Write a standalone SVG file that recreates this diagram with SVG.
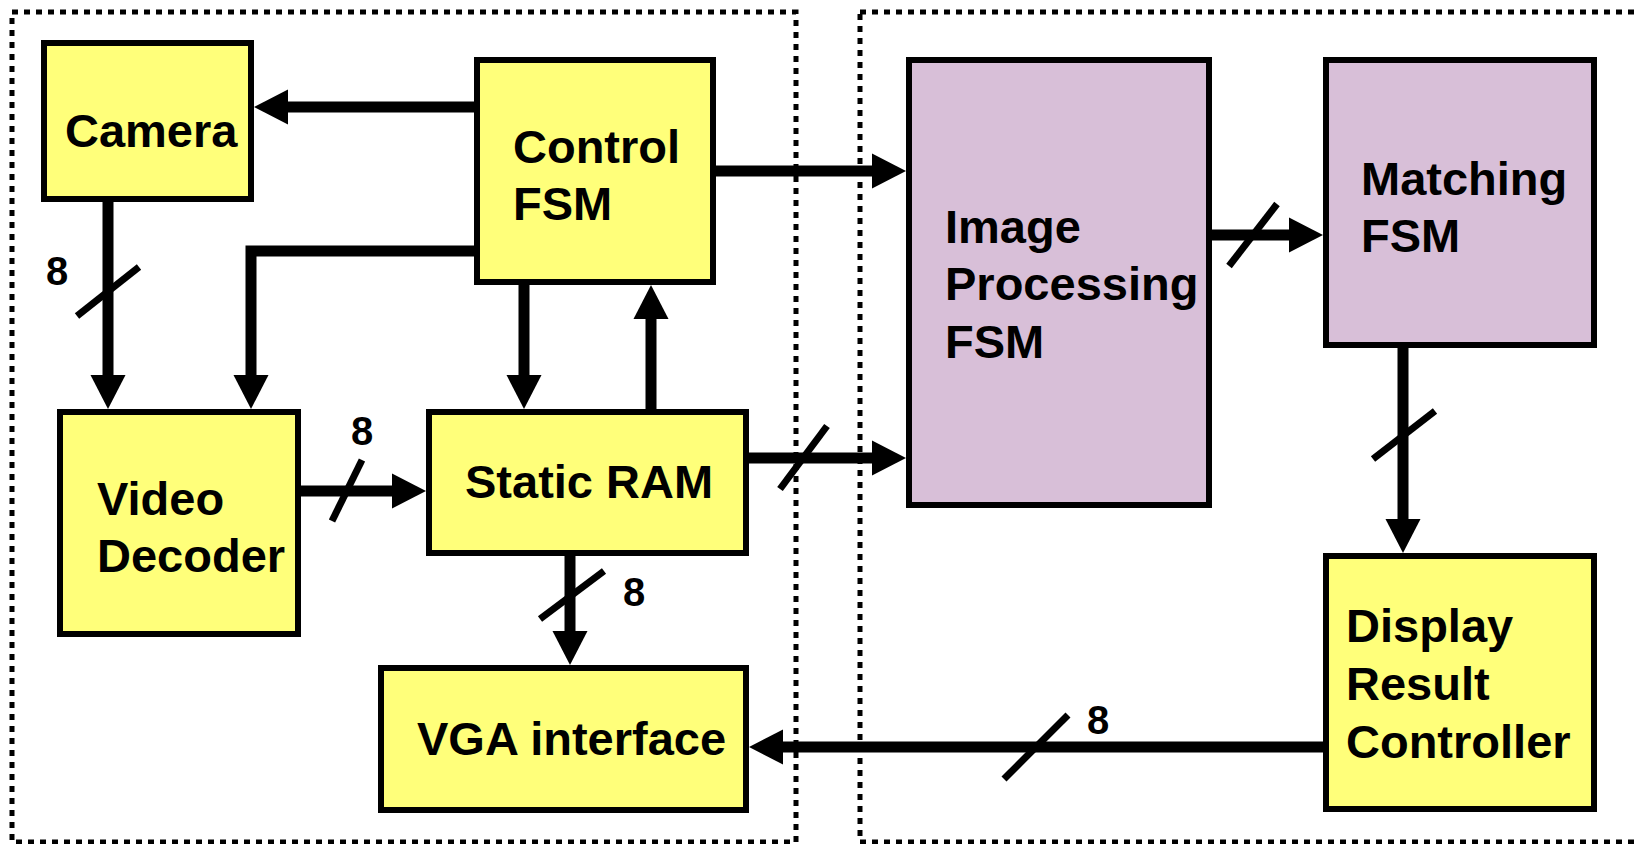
<svg xmlns="http://www.w3.org/2000/svg" width="1637" height="844" viewBox="0 0 1637 844">
  <defs>
    <style>
      .frame { fill: none; stroke: #000; stroke-width: 5; stroke-dasharray: 6 6; }
      .box { stroke: #000; stroke-width: 6; }
      .yellow { fill: #FFFF7A; }
      .lilac { fill: #D8BFD8; }
      .label { font-family: "Liberation Sans", Arial, sans-serif; font-weight: bold; font-size: 47px; fill: #000; }
      .width { font-family: "Liberation Sans", Arial, sans-serif; font-weight: bold; font-size: 40px; fill: #000; }
      .wire { fill: none; stroke: #000; stroke-width: 11; stroke-linejoin: miter; marker-end: url(#head); }
      .slash { stroke: #000; stroke-width: 7; }
    </style>
    <marker id="head" viewBox="0 -18 34 36" refX="0" refY="0" markerWidth="34" markerHeight="36" markerUnits="userSpaceOnUse" orient="auto" overflow="visible">
      <path d="M0,-17.5 L34,0 L0,17.5 Z" fill="#000"/>
    </marker>
  </defs>

  <!-- partition frames -->
  <g id="frames">
    <rect class="frame" x="12" y="12" width="784" height="830"/>
    <rect class="frame" x="860" y="12" width="800" height="830"/>
  </g>

  <!-- connectors -->
  <g id="connectors">
    <path class="wire" d="M474,107 H288"/>
    <path class="wire" d="M108,202 V375"/>
    <path class="wire" d="M474,251 H251 V375"/>
    <path class="wire" d="M524,285 V375"/>
    <path class="wire" d="M651,409 V319"/>
    <path class="wire" d="M716,171 H872"/>
    <path class="wire" d="M749,458 H872"/>
    <path class="wire" d="M301,491 H392"/>
    <path class="wire" d="M570,556 V631"/>
    <path class="wire" d="M1212,235 H1289"/>
    <path class="wire" d="M1403,348 V519"/>
    <path class="wire" d="M1323,747 H783"/>
    <!-- bus-width slashes -->
    <line class="slash" x1="77" y1="316" x2="139" y2="267"/>
    <line class="slash" x1="332" y1="521" x2="362" y2="460"/>
    <line class="slash" x1="780" y1="489" x2="827" y2="426"/>
    <line class="slash" x1="540" y1="619" x2="604" y2="571"/>
    <line class="slash" x1="1229" y1="266" x2="1277" y2="204"/>
    <line class="slash" x1="1373" y1="459" x2="1435" y2="411"/>
    <line class="slash" x1="1004" y1="779" x2="1068" y2="715"/>
    <text class="width" x="46" y="285">8</text>
    <text class="width" x="351" y="445">8</text>
    <text class="width" x="623" y="606">8</text>
    <text class="width" x="1087" y="734">8</text>
  </g>

  <g id="camera">
    <rect class="box yellow" x="44" y="43" width="207" height="156"/>
    <text class="label" x="65" y="147">Camera</text>
  </g>

  <g id="control-fsm">
    <rect class="box yellow" x="477" y="60" width="236" height="222"/>
    <text class="label" x="513" y="163">Control</text>
    <text class="label" x="513" y="220">FSM</text>
  </g>

  <g id="video-decoder">
    <rect class="box yellow" x="60" y="412" width="238" height="222"/>
    <text class="label" x="97" y="515">Video</text>
    <text class="label" x="97" y="572">Decoder</text>
  </g>

  <g id="static-ram">
    <rect class="box yellow" x="429" y="412" width="317" height="141"/>
    <text class="label" x="465" y="498">Static RAM</text>
  </g>

  <g id="vga-interface">
    <rect class="box yellow" x="381" y="668" width="365" height="142"/>
    <text class="label" x="417" y="755">VGA interface</text>
  </g>

  <g id="image-processing-fsm">
    <rect class="box lilac" x="909" y="60" width="300" height="445"/>
    <text class="label" x="945" y="243">Image</text>
    <text class="label" x="945" y="300">Processing</text>
    <text class="label" x="945" y="358">FSM</text>
  </g>

  <g id="matching-fsm">
    <rect class="box lilac" x="1326" y="60" width="268" height="285"/>
    <text class="label" x="1361" y="195">Matching</text>
    <text class="label" x="1361" y="252">FSM</text>
  </g>

  <g id="display-result-controller">
    <rect class="box yellow" x="1326" y="556" width="268" height="253"/>
    <text class="label" x="1346" y="642">Display</text>
    <text class="label" x="1346" y="700">Result</text>
    <text class="label" x="1346" y="758">Controller</text>
  </g>
</svg>
